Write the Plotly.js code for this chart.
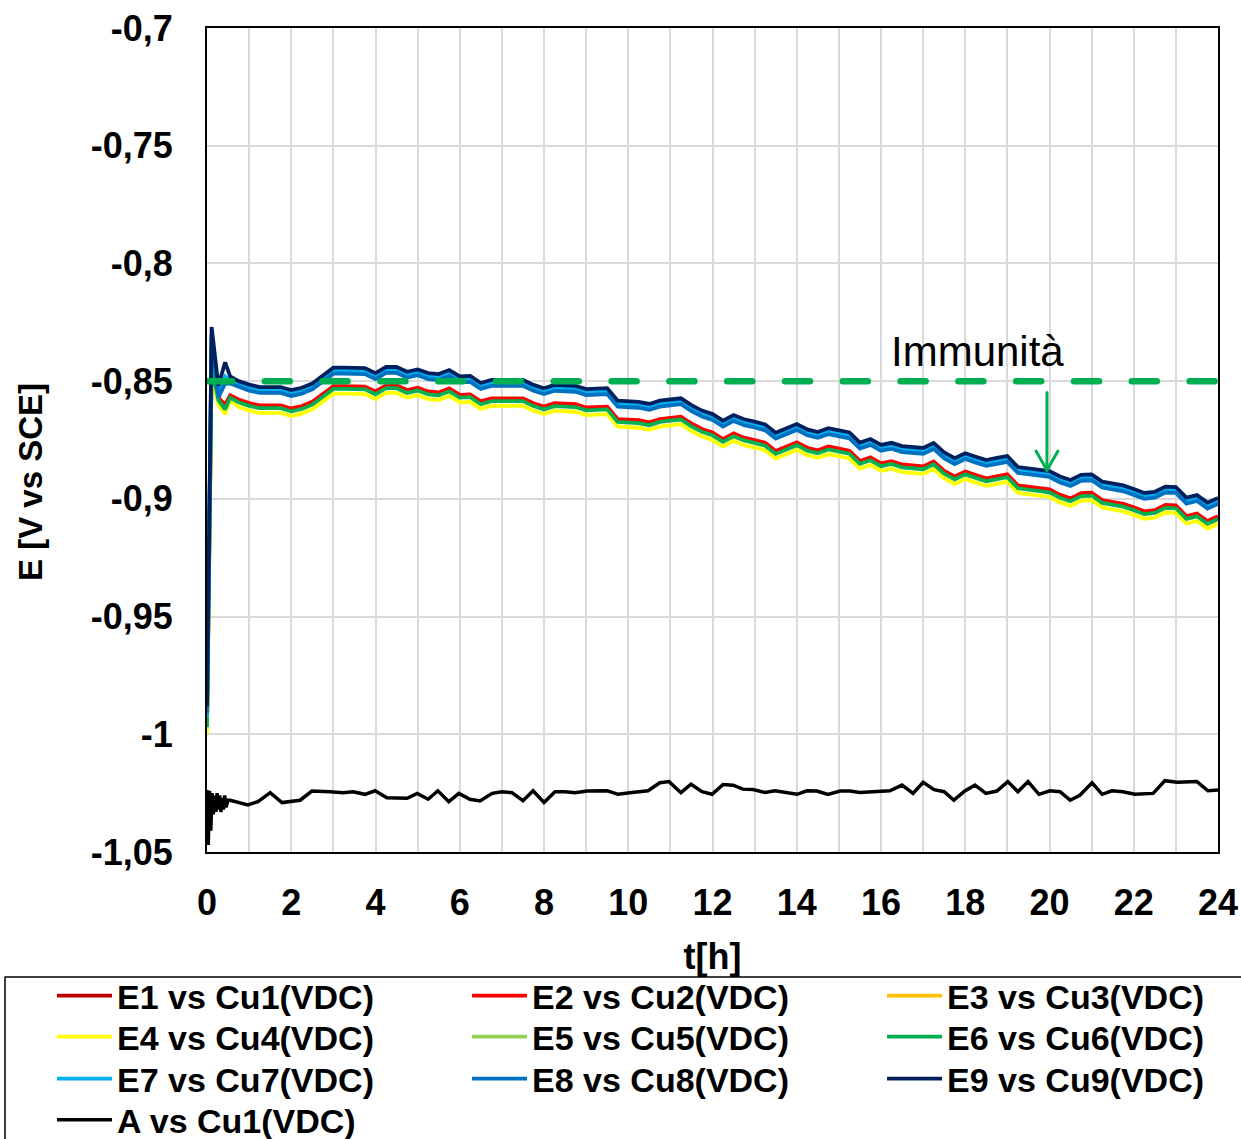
<!DOCTYPE html>
<html>
<head>
<meta charset="utf-8">
<script src="https://cdn.plot.ly/plotly-3.0.1.min.js"></script>
<style>html,body{margin:0;padding:0;background:#fff;}#chart{width:1241px;height:1139px;}</style>
</head>
<body>
<div id="chart"></div>
<script>
// Time axis for the electrode series [h]
const hours = [0, 0.11, 0.27, 0.43, 0.55,
  0.75, 1, 1.25, 1.5, 1.75, 2, 2.25, 2.5, 2.75, 3, 3.25, 3.5, 3.75, 4, 4.25, 4.5, 4.75, 5, 5.25, 5.5,
  5.75, 6, 6.25, 6.5, 6.75, 7, 7.25, 7.5, 7.75, 8, 8.25, 8.5, 8.75, 9, 9.25, 9.5, 9.75, 10, 10.25, 10.5,
  10.75, 11, 11.25, 11.5, 11.75, 12, 12.25, 12.5, 12.75, 13, 13.25, 13.5, 13.75, 14, 14.25, 14.5, 14.75, 15, 15.25, 15.5,
  15.75, 16, 16.25, 16.5, 16.75, 17, 17.25, 17.5, 17.75, 18, 18.25, 18.5, 18.75, 19, 19.25, 19.5, 19.75, 20, 20.25, 20.5,
  20.75, 21, 21.25, 21.5, 21.75, 22, 22.25, 22.5, 22.75, 23, 23.25, 23.5, 23.75, 24];

const E1 = [-0.997, -0.845, -0.858, -0.861, -0.857,
  -0.8586, -0.8601, -0.8611, -0.8611, -0.8611, -0.8624, -0.8614, -0.8596, -0.8564, -0.8529, -0.8529, -0.8529, -0.8531, -0.8552, -0.8526, -0.8526, -0.8546, -0.8536, -0.8552, -0.8556,
  -0.8539, -0.8566, -0.8564, -0.8594, -0.8581, -0.8581, -0.8582, -0.8581, -0.8602, -0.8616, -0.8602, -0.8604, -0.8606, -0.862, -0.8618, -0.8616, -0.8669, -0.867, -0.8674, -0.8683,
  -0.8669, -0.8664, -0.8659, -0.8688, -0.8711, -0.8726, -0.8754, -0.873, -0.8748, -0.8758, -0.877, -0.8805, -0.8786, -0.8768, -0.8791, -0.8802, -0.8786, -0.8794, -0.8804, -0.8847,
  -0.8832, -0.8857, -0.8848, -0.8862, -0.8866, -0.887, -0.8849, -0.8889, -0.8913, -0.8892, -0.8907, -0.8921, -0.8912, -0.8904, -0.8951, -0.8957, -0.8962, -0.8968, -0.8991, -0.9006,
  -0.8984, -0.8982, -0.9013, -0.9021, -0.9029, -0.9044, -0.9061, -0.9056, -0.9034, -0.9036, -0.9081, -0.907, -0.9102, -0.9082];

const E2 = [-0.996, -0.842, -0.857, -0.86, -0.856,
  -0.8578, -0.8593, -0.8603, -0.8603, -0.8603, -0.8616, -0.8606, -0.8588, -0.8556, -0.8521, -0.8521, -0.8521, -0.8523, -0.8544, -0.8518, -0.8518, -0.8538, -0.8528, -0.8544, -0.8548,
  -0.8531, -0.8558, -0.8556, -0.8586, -0.8573, -0.8573, -0.8574, -0.8573, -0.8594, -0.8608, -0.8594, -0.8596, -0.8598, -0.8612, -0.861, -0.8608, -0.8661, -0.8662, -0.8666, -0.8675,
  -0.8661, -0.8656, -0.8651, -0.868, -0.8703, -0.8718, -0.8746, -0.8722, -0.874, -0.875, -0.8762, -0.8797, -0.8778, -0.876, -0.8783, -0.8794, -0.8778, -0.8786, -0.8796, -0.8839,
  -0.8824, -0.8849, -0.884, -0.8854, -0.8858, -0.8862, -0.8841, -0.8881, -0.8905, -0.8884, -0.8899, -0.8913, -0.8904, -0.8896, -0.8943, -0.8949, -0.8954, -0.896, -0.8983, -0.8998,
  -0.8976, -0.8974, -0.9005, -0.9013, -0.9021, -0.9036, -0.9053, -0.9048, -0.9026, -0.9028, -0.9073, -0.9062, -0.9094, -0.9074];

const E3 = [-0.993, -0.833, -0.856, -0.849, -0.851,
  -0.8513, -0.8528, -0.8538, -0.8538, -0.8538, -0.8551, -0.8541, -0.8523, -0.8491, -0.8456, -0.8456, -0.8456, -0.8458, -0.8479, -0.8453, -0.8453, -0.8473, -0.8463, -0.8479, -0.8483,
  -0.8466, -0.8493, -0.8491, -0.8521, -0.8508, -0.8508, -0.8509, -0.8508, -0.8529, -0.8543, -0.8529, -0.8531, -0.8533, -0.8547, -0.8545, -0.8543, -0.8596, -0.8597, -0.8601, -0.861,
  -0.8596, -0.8591, -0.8586, -0.8615, -0.8638, -0.8653, -0.8681, -0.8657, -0.8675, -0.8685, -0.8697, -0.8732, -0.8713, -0.8695, -0.8718, -0.8729, -0.8713, -0.8721, -0.8731, -0.8774,
  -0.8759, -0.8784, -0.8775, -0.8789, -0.8793, -0.8797, -0.8776, -0.8816, -0.884, -0.8819, -0.8834, -0.8848, -0.8839, -0.8831, -0.8878, -0.8884, -0.8889, -0.8895, -0.8918, -0.8933,
  -0.8911, -0.8909, -0.894, -0.8948, -0.8956, -0.8971, -0.8988, -0.8983, -0.8961, -0.8963, -0.9008, -0.8997, -0.9029, -0.9009];

const E4 = [-1.0, -0.846, -0.86, -0.864, -0.858,
  -0.861, -0.8625, -0.8635, -0.8635, -0.8635, -0.8648, -0.8638, -0.862, -0.8588, -0.8553, -0.8553, -0.8553, -0.8555, -0.8576, -0.855, -0.855, -0.857, -0.856, -0.8576, -0.858,
  -0.8563, -0.859, -0.8588, -0.8618, -0.8605, -0.8605, -0.8606, -0.8605, -0.8626, -0.864, -0.8626, -0.8628, -0.863, -0.8644, -0.8642, -0.864, -0.8693, -0.8694, -0.8698, -0.8707,
  -0.8693, -0.8688, -0.8683, -0.8712, -0.8735, -0.875, -0.8778, -0.8754, -0.8772, -0.8782, -0.8794, -0.8829, -0.881, -0.8792, -0.8815, -0.8826, -0.881, -0.8818, -0.8828, -0.8871,
  -0.8856, -0.8881, -0.8872, -0.8886, -0.889, -0.8894, -0.8873, -0.8913, -0.8937, -0.8916, -0.8931, -0.8945, -0.8936, -0.8928, -0.8975, -0.8981, -0.8986, -0.8992, -0.9015, -0.903,
  -0.9008, -0.9006, -0.9037, -0.9045, -0.9053, -0.9068, -0.9085, -0.908, -0.9058, -0.906, -0.9105, -0.9094, -0.9126, -0.9106];

const E5 = [-0.994, -0.834, -0.856, -0.85, -0.851,
  -0.8514, -0.8529, -0.8539, -0.8539, -0.8539, -0.8552, -0.8542, -0.8524, -0.8492, -0.8457, -0.8457, -0.8457, -0.8459, -0.848, -0.8454, -0.8454, -0.8474, -0.8464, -0.848, -0.8484,
  -0.8467, -0.8494, -0.8492, -0.8522, -0.8509, -0.8509, -0.851, -0.8509, -0.853, -0.8544, -0.853, -0.8532, -0.8534, -0.8548, -0.8546, -0.8544, -0.8597, -0.8598, -0.8602, -0.8611,
  -0.8597, -0.8592, -0.8587, -0.8616, -0.8639, -0.8654, -0.8682, -0.8658, -0.8676, -0.8686, -0.8698, -0.8733, -0.8714, -0.8696, -0.8719, -0.873, -0.8714, -0.8722, -0.8732, -0.8775,
  -0.876, -0.8785, -0.8776, -0.879, -0.8794, -0.8798, -0.8777, -0.8817, -0.8841, -0.882, -0.8835, -0.8849, -0.884, -0.8832, -0.8879, -0.8885, -0.889, -0.8896, -0.8919, -0.8934,
  -0.8912, -0.891, -0.8941, -0.8949, -0.8957, -0.8972, -0.8989, -0.8984, -0.8962, -0.8964, -0.9009, -0.8998, -0.903, -0.901];

const E6 = [-0.997, -0.844, -0.858, -0.862, -0.857,
  -0.859, -0.8605, -0.8615, -0.8615, -0.8615, -0.8628, -0.8618, -0.86, -0.8568, -0.8533, -0.8533, -0.8533, -0.8535, -0.8556, -0.853, -0.853, -0.855, -0.854, -0.8556, -0.856,
  -0.8543, -0.857, -0.8568, -0.8598, -0.8585, -0.8585, -0.8586, -0.8585, -0.8606, -0.862, -0.8606, -0.8608, -0.861, -0.8624, -0.8622, -0.862, -0.8673, -0.8674, -0.8678, -0.8687,
  -0.8673, -0.8668, -0.8663, -0.8692, -0.8715, -0.873, -0.8758, -0.8734, -0.8752, -0.8762, -0.8774, -0.8809, -0.879, -0.8772, -0.8795, -0.8806, -0.879, -0.8798, -0.8808, -0.8851,
  -0.8836, -0.8861, -0.8852, -0.8866, -0.887, -0.8874, -0.8853, -0.8893, -0.8917, -0.8896, -0.8911, -0.8925, -0.8916, -0.8908, -0.8955, -0.8961, -0.8966, -0.8972, -0.8995, -0.901,
  -0.8988, -0.8986, -0.9017, -0.9025, -0.9033, -0.9048, -0.9065, -0.906, -0.9038, -0.904, -0.9085, -0.9074, -0.9106, -0.9086];

const E7 = [-0.993, -0.831, -0.855, -0.848, -0.85,
  -0.8512, -0.8527, -0.8537, -0.8537, -0.8537, -0.855, -0.854, -0.8522, -0.849, -0.8455, -0.8455, -0.8455, -0.8457, -0.8478, -0.8452, -0.8452, -0.8472, -0.8462, -0.8478, -0.8482,
  -0.8465, -0.8492, -0.849, -0.852, -0.8507, -0.8507, -0.8508, -0.8507, -0.8528, -0.8542, -0.8528, -0.853, -0.8532, -0.8546, -0.8544, -0.8542, -0.8595, -0.8596, -0.86, -0.8609,
  -0.8595, -0.859, -0.8585, -0.8614, -0.8637, -0.8652, -0.868, -0.8656, -0.8674, -0.8684, -0.8696, -0.8731, -0.8712, -0.8694, -0.8717, -0.8728, -0.8712, -0.872, -0.873, -0.8773,
  -0.8758, -0.8783, -0.8774, -0.8788, -0.8792, -0.8796, -0.8775, -0.8815, -0.8839, -0.8818, -0.8833, -0.8847, -0.8838, -0.883, -0.8877, -0.8883, -0.8888, -0.8894, -0.8917, -0.8932,
  -0.891, -0.8908, -0.8939, -0.8947, -0.8955, -0.897, -0.8987, -0.8982, -0.896, -0.8962, -0.9007, -0.8996, -0.9028, -0.9008];

const E8 = [-0.991, -0.83, -0.857, -0.851, -0.851,
  -0.8525, -0.854, -0.855, -0.855, -0.855, -0.8563, -0.8553, -0.8535, -0.8503, -0.8468, -0.8468, -0.8468, -0.847, -0.8491, -0.8465, -0.8465, -0.8485, -0.8475, -0.8491, -0.8495,
  -0.8478, -0.8505, -0.8503, -0.8533, -0.852, -0.852, -0.8521, -0.852, -0.8541, -0.8555, -0.8541, -0.8543, -0.8545, -0.8559, -0.8557, -0.8555, -0.8608, -0.8609, -0.8613, -0.8622,
  -0.8608, -0.8603, -0.8598, -0.8627, -0.865, -0.8665, -0.8693, -0.8669, -0.8687, -0.8697, -0.8709, -0.8744, -0.8725, -0.8707, -0.873, -0.8741, -0.8725, -0.8733, -0.8743, -0.8786,
  -0.8771, -0.8796, -0.8787, -0.8801, -0.8805, -0.8809, -0.8788, -0.8828, -0.8852, -0.8831, -0.8846, -0.886, -0.8851, -0.8843, -0.889, -0.8896, -0.8901, -0.8907, -0.893, -0.8945,
  -0.8923, -0.8921, -0.8952, -0.896, -0.8968, -0.8983, -0.9, -0.8995, -0.8973, -0.8975, -0.902, -0.9009, -0.9041, -0.9021];

const E9 = [-0.988, -0.827, -0.852, -0.842, -0.848,
  -0.85, -0.8515, -0.8525, -0.8525, -0.8525, -0.8538, -0.8528, -0.851, -0.8478, -0.8443, -0.8443, -0.8443, -0.8445, -0.8466, -0.844, -0.844, -0.846, -0.845, -0.8466, -0.847,
  -0.8453, -0.848, -0.8478, -0.8508, -0.8495, -0.8495, -0.8496, -0.8495, -0.8516, -0.853, -0.8516, -0.8518, -0.852, -0.8534, -0.8532, -0.853, -0.8583, -0.8584, -0.8588, -0.8597,
  -0.8583, -0.8578, -0.8573, -0.8602, -0.8625, -0.864, -0.8668, -0.8644, -0.8662, -0.8672, -0.8684, -0.8719, -0.87, -0.8682, -0.8705, -0.8716, -0.87, -0.8708, -0.8718, -0.8761,
  -0.8746, -0.8771, -0.8762, -0.8776, -0.878, -0.8784, -0.8763, -0.8803, -0.8827, -0.8806, -0.8821, -0.8835, -0.8826, -0.8818, -0.8865, -0.8871, -0.8876, -0.8882, -0.8905, -0.892,
  -0.8898, -0.8896, -0.8927, -0.8935, -0.8943, -0.8958, -0.8975, -0.897, -0.8948, -0.895, -0.8995, -0.8984, -0.9016, -0.8996];

// Anode series (own time base)
const hoursA = [0, 0.03, 0.06, 0.09, 0.12, 0.15, 0.18, 0.21, 0.24, 0.27, 0.3, 0.33, 0.36, 0.39, 0.42, 0.45, 0.5, 0.55,
  0.97, 1.21, 1.5, 1.78, 2.21, 2.49, 2.92, 3.23, 3.47, 3.75, 3.99, 4.27, 4.75, 4.99, 5.25, 5.48, 5.74, 5.98,
  6.24, 6.48, 6.77, 7.0, 7.24, 7.5, 7.74, 8.0, 8.26, 8.5, 8.74, 9.02, 9.5, 9.76, 10.04, 10.47, 10.75, 10.97,
  11.25, 11.49, 11.75, 11.99, 12.25, 12.49, 12.72, 12.96, 13.25, 13.48, 14.01, 14.24, 14.48, 14.74, 15.03, 15.26,
  15.5, 16.21, 16.5, 16.76, 17.0, 17.26, 17.5, 17.73, 17.99, 18.23, 18.49, 18.75, 19.01, 19.25, 19.49, 19.75,
  20.01, 20.25, 20.49, 20.72, 21.01, 21.25, 21.48, 21.74, 22.03, 22.46, 22.74, 23.03, 23.5, 23.76, 24.0];
const A = [-1.0237, -1.047, -1.024, -1.041, -1.025, -1.034, -1.026, -1.033, -1.025, -1.032, -1.026, -1.033, -1.027, -1.032, -1.026, -1.031, -1.028, -1.028,
  -1.03, -1.0286, -1.0248, -1.029, -1.028, -1.0241, -1.0244, -1.0248, -1.0244, -1.0255, -1.024, -1.027, -1.0272, -1.0251, -1.0276, -1.024, -1.0286, -1.0251,
  -1.0276, -1.0283, -1.0251, -1.0244, -1.0248, -1.0282, -1.024, -1.029, -1.0244, -1.0244, -1.0248, -1.0241, -1.024, -1.0255, -1.0248, -1.024, -1.0206, -1.0201,
  -1.0248, -1.0212, -1.0244, -1.0255, -1.0213, -1.0216, -1.0233, -1.0235, -1.0247, -1.024, -1.0255, -1.024, -1.0241, -1.0255, -1.0241, -1.0241,
  -1.0247, -1.024, -1.0216, -1.0251, -1.0204, -1.0235, -1.0244, -1.028, -1.0241, -1.0216, -1.0251, -1.0241, -1.0201, -1.0244, -1.0201, -1.0255,
  -1.024, -1.0244, -1.028, -1.0259, -1.0206, -1.0255, -1.024, -1.0244, -1.0255, -1.0251, -1.0197, -1.0204, -1.0201, -1.024, -1.0237];

const seriesNames = ['E1 vs Cu1(VDC)', 'E2 vs Cu2(VDC)', 'E3 vs Cu3(VDC)', 'E4 vs Cu4(VDC)', 'E5 vs Cu5(VDC)',
  'E6 vs Cu6(VDC)', 'E7 vs Cu7(VDC)', 'E8 vs Cu8(VDC)', 'E9 vs Cu9(VDC)', 'A vs Cu1(VDC)'];
const seriesColors = ['#C00000', '#FF0000', '#FFC000', '#FFFF00', '#92D050', '#00B050', '#00B0F0', '#0070C0', '#002060', '#000000'];

const yTickVals = [-1.05, -1, -0.95, -0.9, -0.85, -0.8, -0.75, -0.7];
const yTickText = ['-1,05', '-1', '-0,95', '-0,9', '-0,85', '-0,8', '-0,75', '-0,7'];
const xTitle = 't[h]';
const yTitle = 'E [V vs SCE]';

const immunityLevel = -0.85;
const immunityLabel = 'Immunità';
const labelPos = {x: 18.28, y: -0.8376};
const arrowX = 19.94, arrowTop = -0.8548, arrowTip = -0.8878;

// Legend grid: 3 columns x 4 rows (paper coordinates)
const legendCols = [-0.1533, 0.2572, 0.6677];
const legendRows = [-0.1748, -0.2245, -0.2755, -0.3253];

const ys = [E1, E2, E3, E4, E5, E6, E7, E8, E9, A];
const traces = ys.map((y, i) => ({
  type: 'scatter', mode: 'lines',
  x: i === 9 ? hoursA : hours, y: y,
  name: seriesNames[i],
  legend: i === 0 ? 'legend' : 'legend' + (i + 1),
  line: {color: seriesColors[i], width: i === 9 ? 3.5 : 3.8}
}));

const fam = 'Liberation Sans, Arial, sans-serif';
const tickFont = {family: fam, size: 36, color: '#000', weight: 'bold'};
const legendFont = {family: fam, size: 34, color: '#000', weight: 'bold'};
const grid = '#d9d9d9';

const layout = {
  width: 1241, height: 1139,
  margin: {l: 207, r: 23, t: 28, b: 287, autoexpand: false},
  paper_bgcolor: '#fff', plot_bgcolor: '#fff',
  showlegend: true,
  xaxis: {
    range: [0, 24], tick0: 0, dtick: 2, automargin: false,
    showgrid: true, gridcolor: grid, gridwidth: 2,
    minor: {dtick: 1, showgrid: true, gridcolor: grid, gridwidth: 2},
    showline: true, linecolor: '#000', linewidth: 2, mirror: true,
    zeroline: false, ticks: '', ticklabelstandoff: 18,
    tickfont: tickFont,
    title: {text: xTitle, font: {family: fam, size: 36, color: '#000', weight: 'bold'}, standoff: 22}
  },
  yaxis: {
    range: [-1.05, -0.7], tickvals: yTickVals, ticktext: yTickText, automargin: false,
    showgrid: true, gridcolor: grid, gridwidth: 2,
    showline: true, linecolor: '#000', linewidth: 2, mirror: true,
    zeroline: false, ticks: '', ticklabelstandoff: 25,
    tickfont: tickFont
  },
  shapes: [
    {type: 'line', xref: 'x', yref: 'y', x0: 0, x1: 24, y0: immunityLevel, y1: immunityLevel,
     line: {color: '#00B050', width: 6.5, dash: '25px,32.8px'}},
    {type: 'line', xref: 'x', yref: 'y', x0: arrowX, x1: arrowX, y0: arrowTop, y1: arrowTip,
     line: {color: '#00B050', width: 3}},
    {type: 'path', xref: 'x', yref: 'y',
     path: 'M' + (arrowX - 0.26) + ',' + (arrowTip + 0.0081) + ' L' + arrowX + ',' + arrowTip + ' L' + (arrowX + 0.26) + ',' + (arrowTip + 0.0081),
     line: {color: '#00B050', width: 3}},
    {type: 'rect', xref: 'paper', yref: 'paper', x0: -0.1998, x1: 1.03, y0: -0.36, y1: -0.1517,
     line: {color: '#000', width: 1.5}, fillcolor: 'rgba(0,0,0,0)'}
  ],
  annotations: [
    {x: labelPos.x, y: labelPos.y, xref: 'x', yref: 'y', text: immunityLabel, showarrow: false,
     font: {family: fam, size: 42, color: '#000'}},
    // y-axis title (placed like the original, slightly below the plot centre)
    {x: -0.1751, y: 0.449, xref: 'paper', yref: 'paper', text: yTitle, textangle: -90, showarrow: false,
     xanchor: 'center', yanchor: 'middle',
     font: {family: fam, size: 33, color: '#000', weight: 'bold'}}
  ]
};

// one legend box per entry, laid out on the 3-column grid (row-major order)
ys.forEach((y, i) => {
  const key = i === 0 ? 'legend' : 'legend' + (i + 1);
  layout[key] = {
    x: legendCols[i % 3], xanchor: 'left',
    y: legendRows[Math.floor(i / 3)], yanchor: 'middle',
    font: legendFont, bgcolor: 'rgba(0,0,0,0)', borderwidth: 0,
    itemwidth: 55, orientation: 'v'
  };
});

Plotly.newPlot('chart', traces, layout, {displayModeBar: false, responsive: false}).then(() => {
  document.querySelectorAll('.shapelayer path').forEach(p => {
    p.style.strokeLinecap = 'round';
    p.style.strokeLinejoin = 'round';
  });
});
</script>
</body>
</html>
